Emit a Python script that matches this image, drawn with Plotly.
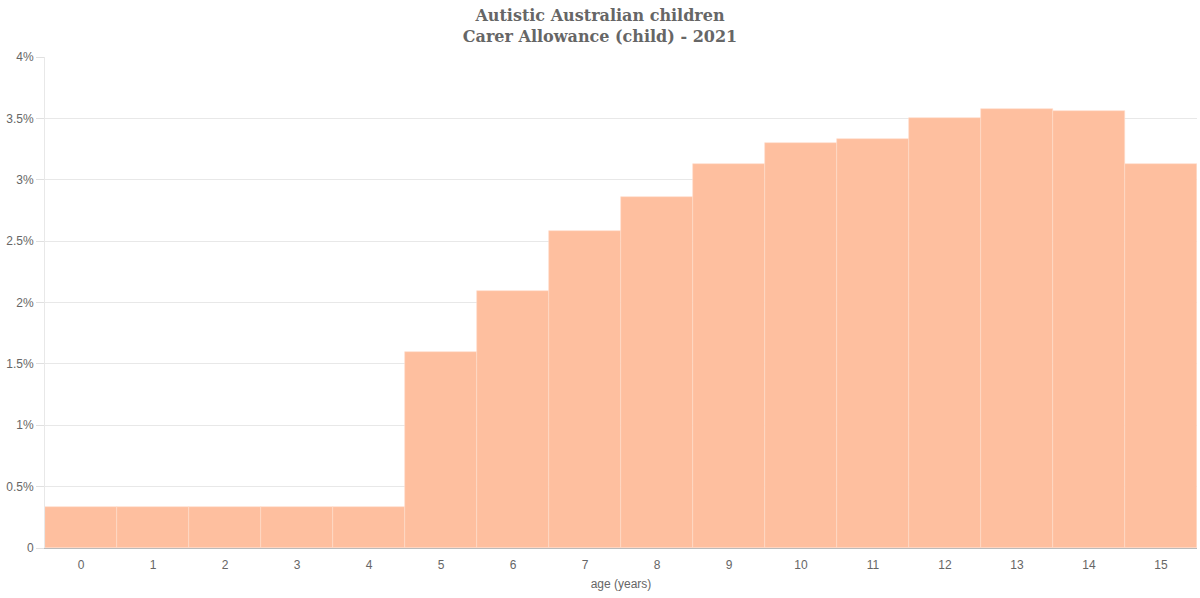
import plotly.graph_objects as go

ages = list(range(16))
age_labels = [str(a) for a in ages]
share_pct = [0.33, 0.33, 0.33, 0.33, 0.33, 1.60, 2.09, 2.58, 2.86, 3.13,
             3.30, 3.33, 3.50, 3.58, 3.56, 3.13]
y_ticks = [0, 0.5, 1, 1.5, 2, 2.5, 3, 3.5, 4]
y_tick_labels = ["0", "0.5%", "1%", "1.5%", "2%", "2.5%", "3%", "3.5%", "4%"]

fig = go.Figure(
    go.Bar(
        x=ages,
        y=share_pct,
        marker=dict(color="#FEBF9F", line=dict(width=0.6, color="#FFDCCB")),
        hovertemplate="%{x}: %{y}%<extra></extra>",
    )
)

fig.update_layout(
    width=1200,
    height=598,
    margin=dict(l=45, r=3, t=57, b=50, autoexpand=False),
    paper_bgcolor="white",
    plot_bgcolor="white",
    bargap=0,
    showlegend=False,
    title=dict(
        text="Autistic Australian children<br>Carer Allowance (child) - 2021",
        x=0.5,
        xanchor="center",
        xref="container",
        yref="container",
        y=1 - 21.0 / 598,
        yanchor="middle",
        font=dict(family="DejaVu Serif, serif", size=16, color="#666666", weight="bold"),
    ),
    font=dict(family="Liberation Sans, Arial, sans-serif", size=12, color="#666666"),
)

fig.update_xaxes(
    range=[-0.5, 15.5],
    tickmode="array",
    tickvals=ages,
    ticktext=age_labels,
    showgrid=False,
    showline=True,
    linecolor="#bbbbbb",
    linewidth=1,
    ticks="",
    ticklabelstandoff=6,
    tickfont=dict(size=12, color="#666666"),
    title=dict(text="age (years)", font=dict(size=12, color="#666666"), standoff=8),
    automargin=False,
    fixedrange=True,
)

fig.update_yaxes(
    range=[0, 4],
    tickmode="array",
    tickvals=y_ticks,
    ticktext=y_tick_labels,
    showgrid=True,
    gridcolor="#e8e8e8",
    gridwidth=1,
    zeroline=False,
    showline=True,
    linecolor="#e8e8e8",
    ticks="outside",
    ticklen=8,
    tickcolor="#e0e0e0",
    tickfont=dict(size=12, color="#666666"),
    automargin=False,
    fixedrange=True,
)

fig.write_html(
    "out.html",
    config={"displayModeBar": False},
    post_script="document.body.style.margin='0';document.body.style.overflow='hidden';",
)
